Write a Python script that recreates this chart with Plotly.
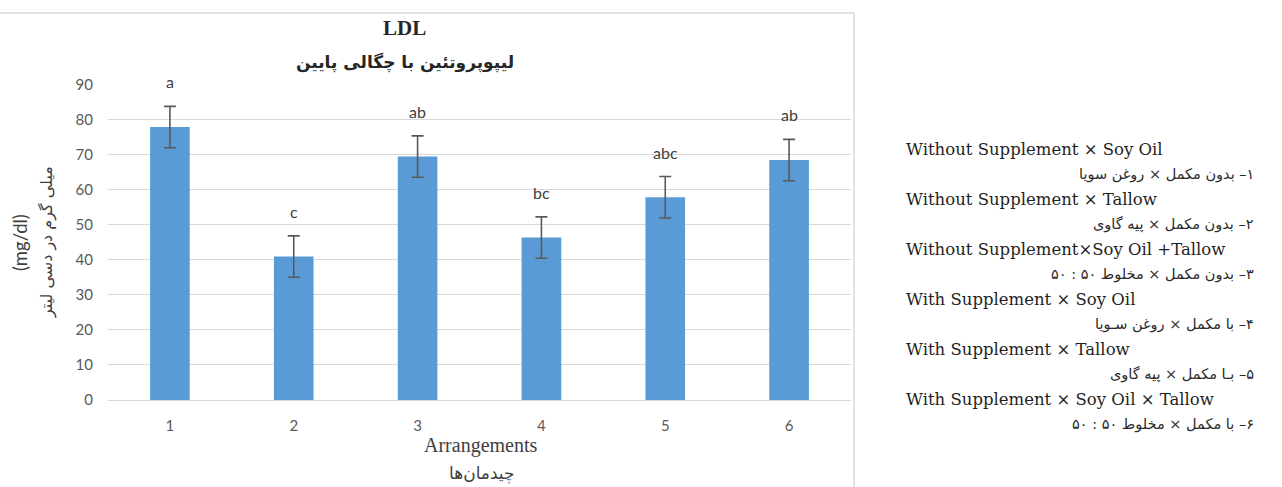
import plotly.graph_objects as go

# LDL per arrangement: means, standard errors and significance letters
arrangements = ["1", "2", "3", "4", "5", "6"]
ldl_mean = [77.8, 40.9, 69.4, 46.3, 57.8, 68.4]
ldl_err = [5.9, 5.9, 5.9, 5.9, 5.9, 5.9]
sig_letters = ["a", "c", "ab", "bc", "abc", "ab"]

# Key of the arrangements (English / Persian pairs)
key_en = [
    "Without Supplement × Soy Oil",
    "Without Supplement × Tallow",
    "Without Supplement×Soy Oil +Tallow",
    "With Supplement × Soy Oil",
    "With Supplement × Tallow",
    "With Supplement × Soy Oil × Tallow",
]
key_fa = [
    "۱– بدون مکمل × روغن سویا",
    "۲– بدون مکمل × پیه گاوی",
    "۳– بدون مکمل × مخلوط ۵۰ : ۵۰",
    "۴– با مکمل × روغن سـویا",
    "۵– بـا مکمل × پیه گاوی",
    "۶– با مکمل × مخلوط ۵۰ : ۵۰",
]

title_en = "LDL"
title_fa = "لیپوپروتئین با چگالی پایین"
x_title_en = "Arrangements"
x_title_fa = "چیدمان‌ها"
y_title_en = "(mg/dl)"
y_title_fa = "میلی گرم در دسی لیتر"

W, H = 1282, 487
SANS = "Lato, 'DejaVu Sans', sans-serif"
SERIF = "'Liberation Serif', 'Times New Roman', serif"
KEY_SERIF = "'DejaVu Serif', serif"
FA = "'DejaVu Sans', sans-serif"


def px(x):
    return x / W


def py(y):
    return 1 - y / H


def rtl(s):
    # right-to-left embedding so the leading Persian numerals stay on the right
    return "\u202b" + s + "\u202c"


def note(x, y, text, font, xanchor="center", angle=0):
    return dict(x=px(x), y=py(y), xref="paper", yref="paper", text=text,
                showarrow=False, xanchor=xanchor, yanchor="middle",
                textangle=angle, font=font)


fig = go.Figure()
fig.add_trace(go.Bar(
    x=arrangements,
    y=ldl_mean,
    marker=dict(color="#5b9bd5", line=dict(width=0)),
    error_y=dict(type="data", array=ldl_err, visible=True,
                 color="#595959", thickness=1.6, width=6),
    hoverinfo="x+y",
))

annotations = []
# significance letters above each error bar (category index positions)
for i, (m, e, lab) in enumerate(zip(ldl_mean, ldl_err, sig_letters)):
    annotations.append(dict(
        x=i, y=m + e, xref="x", yref="y", text=lab, showarrow=False,
        xanchor="center", yanchor="bottom", yshift=13,
        font=dict(family=SANS, size=16, color="#404040"),
    ))

# chart titles
annotations.append(note(404, 28, "<b>" + title_en + "</b>",
                        dict(family=SERIF, size=21, color="#262626")))
annotations.append(note(405, 62, "<b>" + rtl(title_fa) + "</b>",
                        dict(family=FA, size=17, color="#262626")))

# axis titles
annotations.append(note(481, 445, x_title_en,
                        dict(family=SERIF, size=20, color="#404040")))
annotations.append(note(482, 473, rtl(x_title_fa),
                        dict(family=FA, size=17, color="#404040")))
annotations.append(note(20, 243, y_title_en,
                        dict(family=SANS, size=18.5, color="#404040"), angle=-90))
annotations.append(note(47, 242, rtl(y_title_fa),
                        dict(family=FA, size=16, color="#404040"), angle=-90))

# arrangement key on the right
for i, (en, fa) in enumerate(zip(key_en, key_fa)):
    y_en = 149 + i * 50
    annotations.append(note(904, y_en, en,
                            dict(family=KEY_SERIF, size=16.5, color="#1f1f1f"),
                            xanchor="left"))
    annotations.append(note(1256, y_en + 25.5, rtl(fa),
                            dict(family=FA, size=14.5, color="#2a2a2a"),
                            xanchor="right"))

# chart-area frame
shapes = [
    dict(type="line", xref="paper", yref="paper", x0=0, x1=px(854),
         y0=py(13), y1=py(13), line=dict(color="#d9d9d9", width=1.5)),
    dict(type="line", xref="paper", yref="paper", x0=px(854), x1=px(854),
         y0=py(13), y1=0, line=dict(color="#d9d9d9", width=1.5)),
]

fig.update_layout(
    width=W, height=H,
    margin=dict(l=0, r=0, t=0, b=0, pad=0),
    paper_bgcolor="white", plot_bgcolor="white",
    showlegend=False,
    bargap=0.68,
    annotations=annotations,
    shapes=shapes,
    xaxis=dict(
        domain=[px(108), px(851)],
        type="category",
        range=[-0.5, 5.5],
        automargin=False,
        showgrid=False, zeroline=False,
        showline=True, linecolor="#d9d9d9", linewidth=1.2,
        ticks="", ticklabelstandoff=12,
        tickfont=dict(family=SANS, size=15, color="#595959"),
    ),
    yaxis=dict(
        domain=[py(400), py(84.3)],
        range=[0, 90], dtick=10,
        automargin=False,
        showgrid=True, gridcolor="#d9d9d9", gridwidth=1.2,
        zeroline=False, showline=False,
        ticks="", ticklabelstandoff=14,
        tickfont=dict(family=SANS, size=15, color="#595959"),
    ),
)

fig.write_html("out.html")
